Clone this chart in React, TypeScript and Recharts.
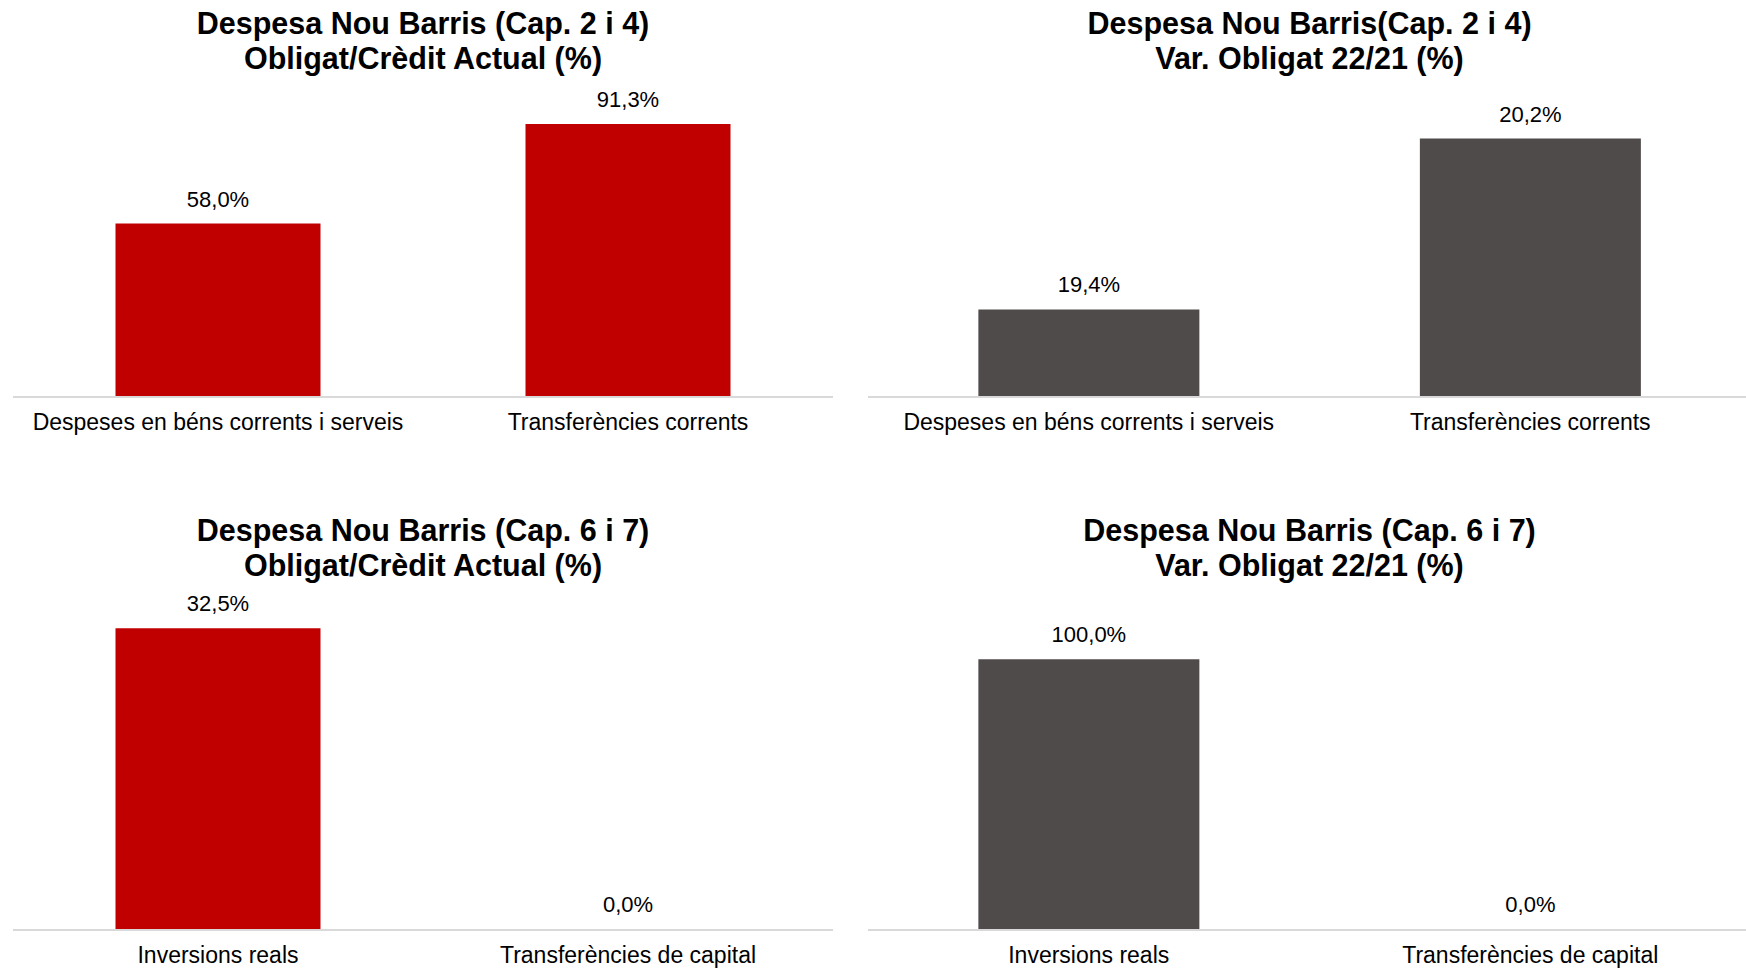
import React from "react";
import { BarChart, Bar, XAxis, YAxis, LabelList, Cell } from "recharts";

const catCorrents = ["Despeses en béns corrents i serveis", "Transferències corrents"];
const catCapital = ["Inversions reals", "Transferències de capital"];

const obligatCredit24 = [58.0, 91.3];
const varObligat24 = [19.4, 20.2];
const obligatCredit67 = [32.5, 0.0];
const varObligat67 = [100.0, 0.0];

const RED = "#C00000";
const GREY = "#504B4B";
const FONT = "'Liberation Sans', Arial, sans-serif";

const fmt = (v: number) => `${Number(v).toFixed(1).replace(".", ",")}%`;

interface PanelProps {
  title: string[];
  categories: string[];
  values: number[];
  color: string;
  domain: [number, number];
  left: number;
  top: number;
  width: number;
  marginTop: number;
  marginBottom: number;
}

const Panel: React.FC<PanelProps> = ({
  title,
  categories,
  values,
  color,
  domain,
  left,
  top,
  width,
  marginTop,
  marginBottom,
}) => {
  const data = categories.map((name, i) => ({ name, value: values[i] }));
  return (
    <div style={{ position: "absolute", left, top, width, height: 485 }}>
      <div
        style={{
          position: "absolute",
          left: 0,
          top: marginTop - 92,
          width,
          textAlign: "center",
          fontWeight: "bold",
          fontSize: 30.5,
          lineHeight: "35px",
          color: "#000",
        }}
      >
        {title.map((t) => (
          <div key={t}>{t}</div>
        ))}
      </div>
      <BarChart
        width={width}
        height={485}
        data={data}
        margin={{ top: marginTop, right: 0, bottom: marginBottom, left: 0 }}
        barCategoryGap="25%"
      >
        <XAxis
          dataKey="name"
          height={40}
          tickLine={false}
          tickMargin={11}
          axisLine={{ stroke: "#D9D9D9", strokeWidth: 2 }}
          tick={{ fontSize: 23, fill: "#000" }}
          interval={0}
        />
        <YAxis hide domain={domain} type="number" allowDataOverflow />
        <Bar
          dataKey="value"
          fill={color}
          isAnimationActive={false}
          minPointSize={(v: number) => (v === 0 ? 1 : 0)}
        >
          {data.map((d, i) => (
            <Cell key={i} fill={d.value === 0 ? "none" : color} />
          ))}
          <LabelList
            dataKey="value"
            position="top"
            offset={17}
            formatter={(v: number) => fmt(v)}
            style={{ fontSize: 22, fill: "#000" }}
          />
        </Bar>
      </BarChart>
    </div>
  );
};

export default function App() {
  return (
    <div
      style={{
        position: "absolute",
        left: 0,
        top: 0,
        width: 1746,
        height: 970,
        overflow: "hidden",
        background: "#fff",
        fontFamily: FONT,
      }}
    >
      <Panel
        title={["Despesa Nou Barris (Cap. 2 i 4)", "Obligat/Crèdit Actual (%)"]}
        categories={catCorrents}
        values={obligatCredit24}
        color={RED}
        domain={[0, 100]}
        left={13}
        top={0}
        width={820}
        marginTop={98}
        marginBottom={48}
      />
      <Panel
        title={["Despesa Nou Barris(Cap. 2 i 4)", "Var. Obligat 22/21 (%)"]}
        categories={catCorrents}
        values={varObligat24}
        color={GREY}
        domain={[18.99, 20.39]}
        left={868}
        top={0}
        width={883}
        marginTop={98}
        marginBottom={48}
      />
      <Panel
        title={["Despesa Nou Barris (Cap. 6 i 7)", "Obligat/Crèdit Actual (%)"]}
        categories={catCapital}
        values={obligatCredit67}
        color={RED}
        domain={[0, 35]}
        left={13}
        top={485}
        width={820}
        marginTop={120}
        marginBottom={0}
      />
      <Panel
        title={["Despesa Nou Barris (Cap. 6 i 7)", "Var. Obligat 22/21 (%)"]}
        categories={catCapital}
        values={varObligat67}
        color={GREY}
        domain={[0, 120]}
        left={868}
        top={485}
        width={883}
        marginTop={120}
        marginBottom={0}
      />
    </div>
  );
}
